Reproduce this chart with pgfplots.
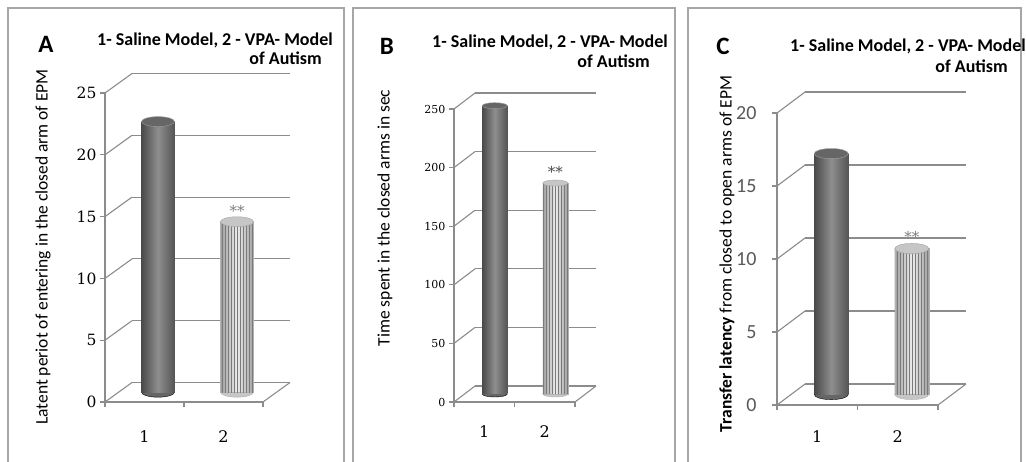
\documentclass[border=0pt]{standalone}
\usepackage{fontspec}
\setmainfont{Carlito}
\newfontfamily\numserif{DejaVu Serif}
\usepackage{pgfplots}
\pgfplotsset{compat=1.18}
\usetikzlibrary{patterns}

\definecolor{gridc}{HTML}{8C8C8C}
\definecolor{boxc}{HTML}{A6A6A6}
\definecolor{barL}{HTML}{4A4A4A}
\definecolor{barM}{HTML}{8E8E8E}
\definecolor{barR}{HTML}{555555}
\definecolor{barTop}{HTML}{666666}
\definecolor{barBot}{HTML}{666666}
\definecolor{stripe}{HTML}{7A7A7A}

\pgfplotsset{
  base/.style={scale only axis, anchor=south west, xmin=0.5, xmax=2.5, ymin=0,
    clip=false, /pgf/number format/assume math mode=true},
  backax/.style={base, axis line style={draw=none}, xtick=\empty,
    yticklabel style={text opacity=0}, major tick length=0pt, ymajorgrids,
    grid style={gridc, line width=1.1pt}},
  frontax/.style={base, axis lines*=left,
    axis line style={gridc, line width=1.1pt, -},
    tick style={gridc, line width=1.1pt}, tick align=outside,
    major tick length=5pt,
    xtick={0.5,1.5,2.5}, xticklabels={,,},
    extra x ticks={1,2}, extra x tick labels={1,2}},
  barax/.style={base, hide axis},
}
\tikzset{diag/.style={gridc, line width=1.1pt}}

\begin{document}
\begin{tikzpicture}
\useasboundingbox (0pt,0pt) rectangle (1026pt,461pt);
\fill[white] (0pt,0pt) rectangle (1026pt,461pt);
\draw[boxc, line width=1.6pt] (8pt,-10pt) rectangle (344pt,453pt);
\draw[boxc, line width=1.6pt] (353pt,-10pt) rectangle (675pt,453pt);
\draw[boxc, line width=1.6pt] (688pt,-10pt) rectangle (1021pt,453pt);

% ---------------- Panel A ----------------
\begin{axis}[backax, at={(132pt,78.5pt)}, width=158pt, height=309pt,
  ymax=25, ytick={0,5,...,25}]
\end{axis}
\begin{axis}[frontax, at={(105pt,59pt)}, width=158pt, height=309pt,
  ymax=25, ytick={0,5,...,25},
  yticklabel style={font=\fontsize{15.5}{16}\numserif},
  extra x tick style={major tick length=0pt,
    xticklabel style={anchor=center, yshift=-35pt, font=\fontsize{16}{16}\numserif}}]
\pgfplotsinvokeforeach{0,5,10,15,20,25}{\draw[diag] (axis cs:0.5,#1) -- ++(27pt,19.5pt);}
\draw[diag] (axis cs:2.5,0) -- ++(27pt,19.5pt);
\end{axis}
\begin{axis}[barax, at={(118.5pt,68.75pt)}, width=158pt, height=309pt, ymax=25]
\addplot[only marks, mark=*, mark size=16.5pt, mark options={yscale=0.3, fill=barBot, draw=none}] coordinates {(1,0)};
\addplot[only marks, mark=*, mark size=16.5pt, mark options={yscale=0.3, fill=gray!45, draw=gray!60}] coordinates {(2,0)};
\end{axis}
\begin{axis}[barax, at={(118.5pt,68.75pt)}, width=158pt, height=309pt, ymax=25]
\addplot[ybar, bar width=33pt, bar shift=0pt, draw=none, left color=barL, right color=barR, middle color=barM] coordinates {(1,21.9)};
\addplot[only marks, mark=*, mark size=16.5pt, mark options={yscale=0.3, fill=barTop, draw=gray!75}] coordinates {(1,21.9)};
\addplot[ybar, bar width=33pt, bar shift=0pt, draw=gray!60, left color=gray!75, right color=gray!75, middle color=gray!15,
  nodes near coords={**}, every node near coord/.append style={font=\fontsize{15}{15}\numserif, text=gray, yshift=2pt}] coordinates {(2,13.8)};
\addplot[ybar, bar width=33pt, bar shift=0pt, draw=none, pattern=vertical lines, pattern color=stripe] coordinates {(2,13.8)};
\addplot[only marks, mark=*, mark size=16.5pt, mark options={yscale=0.3, fill=gray!45, draw=gray!70}] coordinates {(2,13.8)};
\end{axis}
\node[font=\fontsize{25}{25}\bfseries, anchor=base] at (46pt,408pt) {A};
\node[font=\fontsize{18}{18}\bfseries, anchor=base west, inner sep=0pt] at (97pt,415pt) {1- Saline Model, 2 - VPA- Model};
\node[font=\fontsize{18}{18}\bfseries, anchor=base east, inner sep=0pt] at (322pt,396pt) {of Autism};
\node[font=\fontsize{17.5}{18}\selectfont, rotate=90] at (43pt,214pt) {Latent periot of entering in the closed arm of EPM};

% ---------------- Panel B ----------------
\begin{axis}[backax, at={(475pt,75pt)}, width=121pt, height=293pt,
  ymax=250, ytick={0,50,...,250}]
\end{axis}
\begin{axis}[frontax, at={(454pt,59pt)}, width=121pt, height=293pt,
  ymax=250, ytick={0,50,...,250},
  yticklabel style={font=\fontsize{11}{12}\numserif},
  extra x tick style={major tick length=0pt,
    xticklabel style={anchor=center, yshift=-30pt, font=\fontsize{16}{16}\numserif}}]
\pgfplotsinvokeforeach{0,50,100,150,200,250}{\draw[diag] (axis cs:0.5,#1) -- ++(21pt,16pt);}
\draw[diag] (axis cs:2.5,0) -- ++(21pt,16pt);
\end{axis}
\begin{axis}[barax, at={(464.5pt,67pt)}, width=121pt, height=293pt, ymax=250]
\addplot[only marks, mark=*, mark size=12.5pt, mark options={yscale=0.24, fill=barBot, draw=none}] coordinates {(1,0)};
\addplot[only marks, mark=*, mark size=12.5pt, mark options={yscale=0.24, fill=gray!45, draw=gray!60}] coordinates {(2,0)};
\end{axis}
\begin{axis}[barax, at={(464.5pt,67pt)}, width=121pt, height=293pt, ymax=250]
\addplot[ybar, bar width=25pt, bar shift=0pt, draw=none, left color=barL, right color=barR, middle color=barM] coordinates {(1,246)};
\addplot[only marks, mark=*, mark size=12.5pt, mark options={yscale=0.24, fill=barTop, draw=gray!75}] coordinates {(1,246)};
\addplot[ybar, bar width=25pt, bar shift=0pt, draw=gray!60, left color=gray!75, right color=gray!75, middle color=gray!15,
  nodes near coords={**}, every node near coord/.append style={font=\fontsize{15}{15}\numserif, text=black!70, yshift=2pt}] coordinates {(2,180)};
\addplot[ybar, bar width=25pt, bar shift=0pt, draw=none, pattern=vertical lines, pattern color=stripe] coordinates {(2,180)};
\addplot[only marks, mark=*, mark size=12.5pt, mark options={yscale=0.24, fill=gray!45, draw=gray!70}] coordinates {(2,180)};
\end{axis}
\node[font=\fontsize{25}{25}\bfseries, anchor=base] at (387pt,406pt) {B};
\node[font=\fontsize{18}{18}\bfseries, anchor=base west, inner sep=0pt] at (432pt,413pt) {1- Saline Model, 2 - VPA- Model};
\node[font=\fontsize{18}{18}\bfseries, anchor=base east, inner sep=0pt] at (650pt,393pt) {of Autism};
\node[font=\fontsize{17.5}{18}\selectfont, rotate=90] at (385pt,243pt) {Time spent in the closed arms in sec};

% ---------------- Panel C ----------------
\begin{axis}[backax, at={(805pt,77pt)}, width=161pt, height=292pt,
  ymax=20, ytick={0,5,...,20}]
\end{axis}
\begin{axis}[frontax, at={(777pt,56pt)}, width=161pt, height=292pt,
  ymax=20, ytick={0,5,...,20},
  yticklabel style={font=\fontsize{20}{20}\selectfont, text=black!65, xshift=-12pt},
  extra x tick style={major tick length=0pt,
    xticklabel style={anchor=center, yshift=-32pt, font=\fontsize{16}{16}\numserif}}]
\pgfplotsinvokeforeach{0,5,10,15,20}{\draw[diag] (axis cs:0.5,#1) -- ++(28pt,21pt);}
\draw[diag] (axis cs:2.5,0) -- ++(28pt,21pt);
\end{axis}
\begin{axis}[barax, at={(791pt,66.5pt)}, width=161pt, height=292pt, ymax=20]
\addplot[only marks, mark=*, mark size=17pt, mark options={yscale=0.3, fill=barBot, draw=none}] coordinates {(1,0)};
\addplot[only marks, mark=*, mark size=17pt, mark options={yscale=0.3, fill=gray!45, draw=gray!60}] coordinates {(2,0)};
\end{axis}
\begin{axis}[barax, at={(791pt,66.5pt)}, width=161pt, height=292pt, ymax=20]
\addplot[ybar, bar width=34pt, bar shift=0pt, draw=none, left color=barL, right color=barR, middle color=barM] coordinates {(1,16.5)};
\addplot[only marks, mark=*, mark size=17pt, mark options={yscale=0.3, fill=barTop, draw=gray!75}] coordinates {(1,16.5)};
\addplot[ybar, bar width=34pt, bar shift=0pt, draw=gray!60, left color=gray!75, right color=gray!75, middle color=gray!15,
  nodes near coords={**}, every node near coord/.append style={font=\fontsize{15}{15}\numserif, text=gray, yshift=2pt}] coordinates {(2,10.0)};
\addplot[ybar, bar width=34pt, bar shift=0pt, draw=none, pattern=vertical lines, pattern color=stripe] coordinates {(2,10.0)};
\addplot[only marks, mark=*, mark size=17pt, mark options={yscale=0.3, fill=gray!45, draw=gray!70}] coordinates {(2,10.0)};
\end{axis}
\node[font=\fontsize{25}{25}\bfseries, anchor=base] at (723pt,406pt) {C};
\node[font=\fontsize{18}{18}\bfseries, anchor=base west, inner sep=0pt] at (790pt,409pt) {1- Saline Model, 2 - VPA- Model};
\node[font=\fontsize{18}{18}\bfseries, anchor=base east, inner sep=0pt] at (1008pt,388pt) {of Autism};
\node[font=\fontsize{17.5}{18}\selectfont, rotate=90] at (727pt,207pt) {\textbf{Transfer latency} from closed to open arms of EPM};
\end{tikzpicture}
\end{document}
